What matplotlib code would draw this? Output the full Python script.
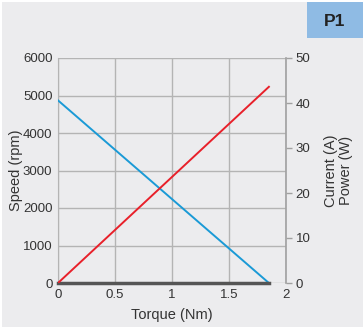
import matplotlib.pyplot as plt
from matplotlib.patches import Rectangle

plt.rcParams['font.family'] = ['Liberation Sans', 'DejaVu Sans']

# data
torque = [0, 1.85]
speed = [4870, 0]        # rpm
current = [0, 43.6]      # A
power = [0, 0]           # W (flat at zero)

xticks = [0, 0.5, 1, 1.5, 2]
xticklabels = ["0", "0.5", "1", "1.5", "2"]
yticks_left = [0, 1000, 2000, 3000, 4000, 5000, 6000]
yticks_right = [0, 10, 20, 30, 40, 50]

txt = "#333333"
bg = "#ececee"
gridc = "#b4b4b4"

fig = plt.figure(figsize=(3.63, 3.27), dpi=100, facecolor="white")
fig.patches.append(Rectangle((2 / 363, 0), 1, 1 - 2 / 327, transform=fig.transFigure,
                             facecolor=bg, edgecolor="none", zorder=-10))
fig.patches.append(Rectangle((307 / 363, 1 - 38 / 327), 56 / 363, 36 / 327,
                             transform=fig.transFigure, facecolor="#8fbbe4",
                             edgecolor="none", zorder=-5))
fig.text(335 / 363, 1 - 21 / 327, "P1", ha="center", va="center",
         fontsize=12.5, fontweight="bold", color="#222222")

ax = fig.add_axes([58 / 363, 1 - 283 / 327, 228 / 363, 225 / 327])
ax.set_facecolor(bg)
ax.set_xlim(0, 2)
ax.set_ylim(0, 6000)
ax.set_xticks(xticks)
ax.set_xticklabels(xticklabels)
ax.set_yticks(yticks_left)
ax.grid(True, color=gridc, linewidth=1)
ax.set_axisbelow(True)
ax.tick_params(length=0, labelsize=9.5, colors=txt, pad=4)
for s in ax.spines.values():
    s.set_visible(False)
ax.spines["left"].set_visible(True)
ax.spines["left"].set_color(gridc)

ax.plot(torque, speed, color="#1a9ad6", linewidth=1.4, zorder=3)

ax2 = ax.twinx()
ax2.set_ylim(0, 50)
ax2.set_yticks(yticks_right)
for s in ax2.spines.values():
    s.set_visible(False)
ax2.spines["right"].set_visible(True)
ax2.spines["right"].set_color("#a0a0a0")
ax2.spines["right"].set_linewidth(1.2)
ax2.tick_params(length=4, width=1, color="#a0a0a0", labelsize=9.5, labelcolor=txt, pad=3)
ax2.plot(torque, current, color="#e8202a", linewidth=1.4, zorder=3)
ax2.plot(torque, power, color="#555555", linewidth=2.5, zorder=2, clip_on=False)

ax.set_xlabel("Torque (Nm)", fontsize=10.5, color=txt, labelpad=5)
ax.set_ylabel("Speed (rpm)", fontsize=10.5, color=txt)
ax.yaxis.set_label_coords(-0.152, 0.5)
ax2.set_ylabel("Current (A)\nPower (W)", fontsize=10.5, color=txt, linespacing=1.05)
ax2.yaxis.set_label_coords(1.168, 0.5)

plt.savefig("out.png", dpi=100, facecolor=fig.get_facecolor())
